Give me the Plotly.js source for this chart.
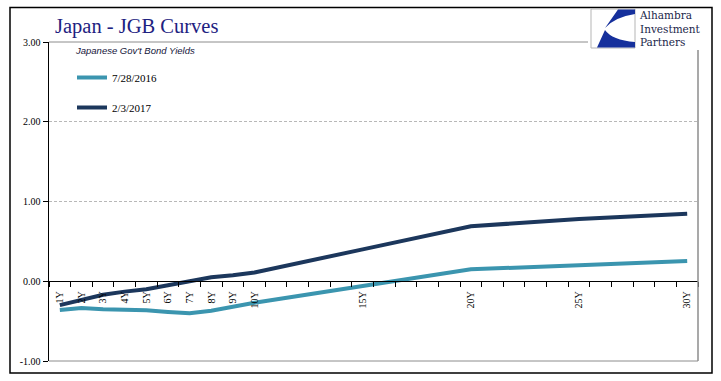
<!DOCTYPE html>
<html>
<head>
<meta charset="utf-8">
<script src="https://cdn.plot.ly/plotly-3.0.1.min.js"></script>
<style>
  html, body { margin: 0; padding: 0; background: #fff; }
  #chart { width: 721px; height: 381px; }
</style>
</head>
<body>
<div id="chart"></div>
<script>
// ---- data ----
const maturityYears = [1, 2, 3, 4, 5, 6, 7, 8, 9, 10, 15, 20, 25, 30];
const maturityLabels = ['1Y', '2Y', '3Y', '4Y', '5Y', '6Y', '7Y', '8Y', '9Y', '10Y', '15Y', '20Y', '25Y', '30Y'];
const seriesNames = ['7/28/2016', '2/3/2017'];
const yields20160728 = [-0.36, -0.335, -0.35, -0.355, -0.365, -0.385, -0.40, -0.37, -0.32, -0.27, -0.06, 0.15, 0.20, 0.255];
const yields20170203 = [-0.30, -0.23, -0.17, -0.13, -0.10, -0.05, 0.00, 0.05, 0.075, 0.11, 0.40, 0.69, 0.78, 0.845];
const yTickVals = [-1, 0, 1, 2, 3];
const yTickText = ['-1.00', '0.00', '1.00', '2.00', '3.00'];

// ---- layout helpers (pixel -> paper) ----
const M = { l: 49, r: 23, t: 42, b: 20 };
const W = 721, H = 381;
const PW = W - M.l - M.r, PH = H - M.t - M.b;
const px = x => (x - M.l) / PW;
const py = y => (H - M.b - y) / PH;
const P = (x, y) => px(x).toFixed(5) + ',' + py(y).toFixed(5);

const serif = 'Liberation Serif, Times New Roman, serif';
const lightColor = '#3B95AF';
const darkColor = '#1C375C';

const traces = [
  {
    x: maturityYears, y: yields20160728, name: seriesNames[0], type: 'scatter', mode: 'lines',
    line: { color: lightColor, width: 4 }, legendgroup: 'a', hoverinfo: 'skip'
  },
  {
    x: maturityYears, y: yields20170203, name: seriesNames[1], type: 'scatter', mode: 'lines',
    line: { color: darkColor, width: 4 }, legendgroup: 'b', hoverinfo: 'skip'
  }
];

const logoBlue = '#16309C';
const shapes = [
  // plot-area border (gray) top, right, bottom
  { type: 'line', xref: 'paper', yref: 'paper', x0: 0, x1: 1, y0: 1, y1: 1, line: { color: '#8c8c8c', width: 1 } },
  { type: 'line', xref: 'paper', yref: 'paper', x0: 1, x1: 1, y0: 0, y1: 1, line: { color: '#8c8c8c', width: 1.5 } },
  { type: 'line', xref: 'paper', yref: 'paper', x0: 0, x1: 1, y0: 0, y1: 0, line: { color: '#8c8c8c', width: 1 } },
  // outer chart border
  { type: 'rect', xref: 'paper', yref: 'paper', x0: px(10), x1: px(712), y0: py(373), y1: py(7.5), line: { color: '#000', width: 1.5 } },
  // logo background
  { type: 'rect', xref: 'paper', yref: 'paper', x0: px(588), x1: px(710), y0: py(50), y1: py(9), fillcolor: '#fff', line: { width: 0 }, layer: 'above' },
  { type: 'rect', xref: 'paper', yref: 'paper', x0: px(591), x1: px(635), y0: py(48), y1: py(9), fillcolor: '#fff', line: { color: '#b5b5b5', width: 1 }, layer: 'above' },
  { type: 'path', xref: 'paper', yref: 'paper', layer: 'above', fillcolor: logoBlue, line: { width: 0 },
    path: 'M' + P(618, 9.5) + ' L' + P(635, 9.5) + ' L' + P(635, 14) + ' Q' + P(615, 17) + ' ' + P(605, 28) + ' Z' },
  { type: 'path', xref: 'paper', yref: 'paper', layer: 'above', fillcolor: logoBlue, line: { width: 0 },
    path: 'M' + P(605, 30) + ' Q' + P(612, 40) + ' ' + P(635, 42) + ' L' + P(635, 47.5) + ' L' + P(597, 47.5) + ' Z' }
];

const annotations = [
  { xref: 'paper', yref: 'paper', x: px(73), y: py(50), xanchor: 'left', yanchor: 'middle', showarrow: false,
    text: "Japanese Gov't Bond Yields", font: { family: 'Liberation Sans, Arial, sans-serif', size: 9.5, style: 'italic', color: '#14143a' } },
  { xref: 'paper', yref: 'paper', x: px(637), y: py(28), xanchor: 'left', yanchor: 'middle', showarrow: false, align: 'left',
    text: 'Alhambra<br>Investment<br>Partners', font: { family: 'DejaVu Serif, serif', size: 10.5, color: '#1b1f4a' } }
];

const layout = {
  width: W, height: H,
  margin: M,
  paper_bgcolor: '#fff', plot_bgcolor: '#fff',
  title: {
    text: 'Japan - JGB Curves', xref: 'container', yref: 'container',
    x: 55 / W, xanchor: 'left', y: 1 - 26 / H, yanchor: 'middle',
    font: { family: serif, size: 20.5, color: '#1E2281' }
  },
  showlegend: true,
  legend: {
    x: px(72), xanchor: 'left', y: py(63), yanchor: 'top', xref: 'paper', yref: 'paper',
    bgcolor: 'rgba(0,0,0,0)', borderwidth: 0, tracegroupgap: 11,
    font: { family: serif, size: 11, color: '#000' }
  },
  xaxis: {
    range: [0.5, 30.5], anchor: 'free', position: 0.25,
    tickmode: 'array', tickvals: maturityYears, ticktext: maturityLabels,
    tickangle: -90, ticks: 'outside', ticklen: 5, tickcolor: 'rgba(0,0,0,0)',
    minor: { tickmode: 'linear', tick0: 0.5, dtick: 1, ticks: 'outside', ticklen: 5, tickcolor: '#000', tickwidth: 1, showgrid: false },
    showline: true, linecolor: '#000', linewidth: 1,
    showgrid: false, zeroline: false,
    tickfont: { family: serif, size: 10, color: '#000' },
    fixedrange: true
  },
  yaxis: {
    range: [-1, 3], tickmode: 'array', tickvals: yTickVals, ticktext: yTickText,
    ticks: 'outside', ticklen: 5, tickcolor: '#000',
    showline: true, linecolor: '#000', linewidth: 1.5,
    showgrid: true, gridcolor: '#b8b8b8', griddash: '3px,2px', gridwidth: 1,
    zeroline: false,
    tickfont: { family: serif, size: 10, color: '#000' },
    fixedrange: true
  },
  shapes: shapes,
  annotations: annotations
};

Plotly.newPlot('chart', traces, layout, { displayModeBar: false, staticPlot: true });
</script>
</body>
</html>
